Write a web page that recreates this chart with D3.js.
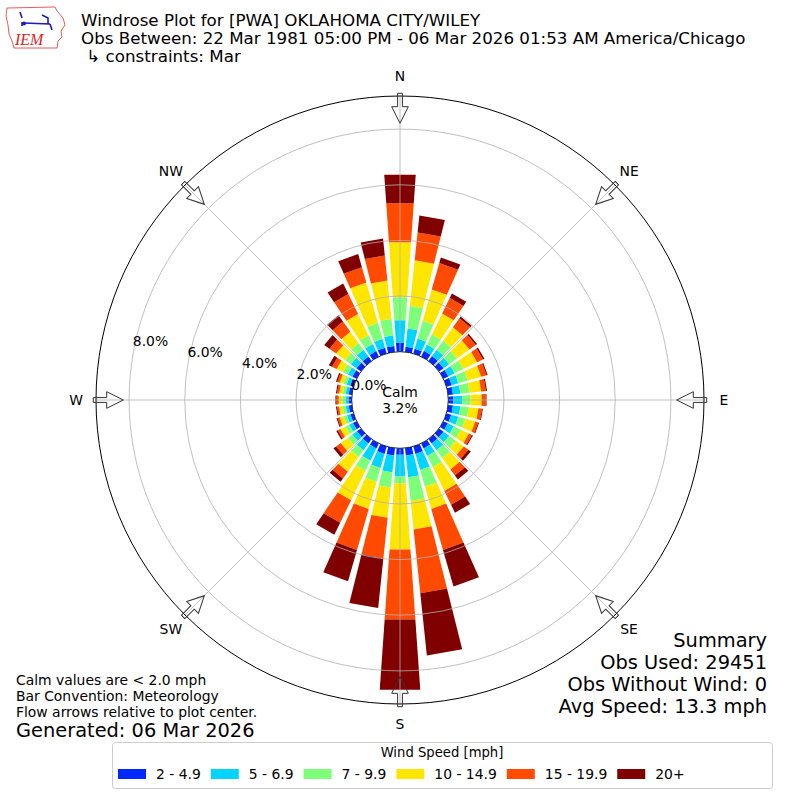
<!DOCTYPE html>
<html>
<head>
<meta charset="utf-8">
<script src="https://cdn.jsdelivr.net/npm/d3@7"></script>
<style>
body { margin: 0; background: #fff; }
svg { font-family: "DejaVu Sans", sans-serif; }
</style>
</head>
<body>
<svg id="chart" width="800" height="800"></svg>
<script>
// wind directions (deg, meteorological, clockwise from north)
var directions = [0,10,20,30,40,50,60,70,80,90,100,110,120,130,140,150,160,170,
	180,190,200,210,220,230,240,250,260,270,280,290,300,310,320,330,340,350];

var speedLabels = ["2 - 4.9","5 - 6.9","7 - 9.9","10 - 14.9","15 - 19.9","20+"];
var speedColors = ["#0028ff","#00d4ff","#7dff7a","#ffe600","#ff4a00","#800000"];

// percent of observations per direction, one array per speed bin
var spd2 = [0.32,0.19,0.18,0.23,0.22,0.20,0.20,0.20,0.18,0.18,0.18,0.18,0.18,0.20,0.20,0.20,0.28,0.27,
	0.24,0.27,0.28,0.20,0.20,0.18,0.15,0.12,0.12,0.12,0.12,0.13,0.17,0.20,0.20,0.22,0.22,0.22];
var spd5 = [0.82,0.66,0.38,0.25,0.28,0.25,0.25,0.25,0.27,0.32,0.27,0.27,0.24,0.25,0.30,0.30,0.60,0.79,
	0.78,0.61,0.53,0.49,0.30,0.20,0.15,0.13,0.11,0.11,0.11,0.13,0.18,0.25,0.30,0.28,0.33,0.38];
var spd7 = [0.83,0.82,0.67,0.41,0.40,0.35,0.35,0.35,0.33,0.30,0.30,0.27,0.28,0.30,0.35,0.45,0.63,0.85,
	0.24,0.55,0.51,0.41,0.30,0.20,0.15,0.12,0.11,0.11,0.10,0.12,0.20,0.25,0.30,0.35,0.60,0.60];
var spd10 = [1.98,1.64,1.17,0.83,0.60,0.55,0.55,0.50,0.42,0.40,0.35,0.36,0.32,0.35,0.50,0.95,0.83,1.03,
	2.39,1.09,1.02,1.17,0.65,0.32,0.20,0.15,0.13,0.13,0.13,0.14,0.25,0.40,0.50,0.85,1.51,1.38];
var spd15 = [1.40,1.01,0.99,0.62,0.40,0.28,0.23,0.20,0.17,0.15,0.13,0.11,0.12,0.20,0.27,0.55,1.53,2.31,
	2.52,1.46,1.53,0.90,0.30,0.20,0.10,0.08,0.07,0.08,0.08,0.09,0.18,0.30,0.45,0.80,0.57,0.91];
var spd20 = [1.03,0.61,0.20,0.18,0.07,0.06,0.06,0.04,0.04,0.03,0.03,0.03,0.04,0.11,0.18,0.32,1.37,2.25,
	2.53,1.80,1.17,0.48,0.15,0.12,0.06,0.04,0.04,0.04,0.04,0.05,0.13,0.23,0.28,0.42,0.49,0.61];

var rTicks = [0,2,4,6,8];
var rMax = 9.19;
var calmPct = "3.2%";
var compass = [["N",0],["NE",45],["E",90],["SE",135],["S",180],["SW",225],["W",270],["NW",315]];

var titleLines = ["Windrose Plot for [PWA] OKLAHOMA CITY/WILEY",
	"Obs Between: 22 Mar 1981 05:00 PM - 06 Mar 2026 01:53 AM America/Chicago",
	" \u21b3 constraints: Mar"];
var noteLines = ["Calm values are < 2.0 mph","Bar Convention: Meteorology","Flow arrows relative to plot center."];
var summaryLines = ["Summary","Obs Used: 29451","Obs Without Wind: 0","Avg Speed: 13.3 mph"];

var svg = d3.select("#chart");
var cx = 400, cy = 400;
var r = d3.scaleLinear().domain([0, rMax]).range([48.3, 304]);
var opening = 8; // bar angular width, deg

function pt(rad, deg) {
	var a = deg * Math.PI / 180;
	return [cx + rad * Math.sin(a), cy - rad * Math.cos(a)];
}

// build table + stack
var series = [spd2, spd5, spd7, spd10, spd15, spd20];
var keys = speedLabels;
var table = directions.map(function(d, i) {
	var row = {dir: d};
	keys.forEach(function(k, j) { row[k] = series[j][i]; });
	return row;
});
var stacked = d3.stack().keys(keys)(table);

var bars = svg.append("g");
stacked.forEach(function(layer, j) {
	bars.selectAll(null)
		.data(layer)
		.enter()
		.append("path")
		.attr("fill", speedColors[j])
		.attr("d", function(d) {
			var a = d.data.dir, r0 = r(d[0]), r1 = r(d[1]);
			var p = [pt(r0, a - opening/2), pt(r1, a - opening/2), pt(r1, a + opening/2), pt(r0, a + opening/2)];
			return "M" + p.join("L") + "Z";
		});
});

// grid on top
var grid = svg.append("g").attr("fill", "none").attr("stroke", "#b0b0b0").attr("stroke-width", 0.8);
grid.selectAll("circle")
	.data(rTicks.slice(1))
	.enter()
	.append("circle")
	.attr("cx", cx).attr("cy", cy)
	.attr("r", function(d) { return r(d); });
grid.selectAll("line")
	.data(compass)
	.enter()
	.append("line")
	.attr("x1", function(d) { return pt(r(0), d[1])[0]; })
	.attr("y1", function(d) { return pt(r(0), d[1])[1]; })
	.attr("x2", function(d) { return pt(r(rMax), d[1])[0]; })
	.attr("y2", function(d) { return pt(r(rMax), d[1])[1]; });

svg.append("circle").attr("cx", cx).attr("cy", cy).attr("r", r(0))
	.attr("fill", "#fff").attr("stroke", "#000").attr("stroke-width", 0.8);
svg.append("circle").attr("cx", cx).attr("cy", cy).attr("r", r(rMax))
	.attr("fill", "none").attr("stroke", "#000").attr("stroke-width", 1);

// radial tick labels
svg.append("g").selectAll("text")
	.data(rTicks)
	.enter()
	.append("text")
	.attr("x", function(d) { return pt(r(d), 281.25)[0] - 1.5; })
	.attr("y", function(d) { return pt(r(d), 281.25)[1] - 1; })
	.attr("font-size", 13.9)
	.text(function(d) { return d.toFixed(1) + "%"; });

// compass labels
svg.append("g").selectAll("text")
	.data(compass)
	.enter()
	.append("text")
	.attr("x", function(d) { return pt(324, d[1])[0]; })
	.attr("y", function(d) { return pt(324, d[1])[1]; })
	.attr("text-anchor", "middle")
	.attr("dominant-baseline", "central")
	.attr("font-size", 13.9)
	.text(function(d) { return d[0]; });

// flow arrows
svg.append("g").selectAll("path")
	.data(compass)
	.enter()
	.append("path")
	.attr("transform", function(d) { return "translate(" + cx + "," + cy + ") rotate(" + d[1] + ")"; })
	.attr("d", "M-2.4,-306.7L2.4,-306.7L2.4,-293.3L8.3,-293.3L0,-276.7L-8.3,-293.3L-2.4,-293.3Z")
	.attr("fill", "none")
	.attr("stroke", "#333")
	.attr("stroke-width", 1);

// calm
svg.append("text").attr("x", cx).attr("y", 397).attr("text-anchor", "middle")
	.attr("font-size", 13.9).text("Calm");
svg.append("text").attr("x", cx).attr("y", 413).attr("text-anchor", "middle")
	.attr("font-size", 13.9).text(calmPct);

// title
svg.append("g").selectAll("text")
	.data(titleLines)
	.enter()
	.append("text")
	.attr("x", 81)
	.attr("y", function(d, i) { return 26 + i * 18; })
	.attr("font-size", 16.7)
	.attr("xml:space", "preserve")
	.text(function(d) { return d; });

// notes lower left
svg.append("g").selectAll("text")
	.data(noteLines)
	.enter()
	.append("text")
	.attr("x", 16)
	.attr("y", function(d, i) { return 685 + i * 16; })
	.attr("font-size", 13.9)
	.text(function(d) { return d; });
svg.append("text").attr("x", 16).attr("y", 737).attr("font-size", 19.4).text("Generated: 06 Mar 2026");

// summary lower right
svg.append("g").selectAll("text")
	.data(summaryLines)
	.enter()
	.append("text")
	.attr("x", 767)
	.attr("y", function(d, i) { return 647 + i * 22; })
	.attr("text-anchor", "end")
	.attr("font-size", 19.4)
	.text(function(d) { return d; });

// legend
var leg = svg.append("g");
leg.append("rect").attr("x", 112.5).attr("y", 742.5).attr("width", 660).attr("height", 46)
	.attr("rx", 3).attr("fill", "#fff").attr("stroke", "#ccc");
leg.append("text").attr("x", 442).attr("y", 757).attr("text-anchor", "middle")
	.attr("font-size", 13.2).text("Wind Speed [mph]");
var lx = 118;
speedLabels.forEach(function(lab, j) {
	leg.append("rect").attr("x", lx).attr("y", 769).attr("width", 28).attr("height", 10)
		.attr("fill", speedColors[j]);
	var t = leg.append("text").attr("x", lx + 38).attr("y", 779).attr("font-size", 13.9).text(lab);
	lx += 38 + t.node().getComputedTextLength() + 10;
});

// IEM logo
var logo = svg.append("g");
logo.append("path")
	.attr("d", "M7,8 L55,7 L57,11 L63,18 L65,25 L61,31 L62,37 L58,41 L57,48 L14,48 L12,41 L9,34 L8,25 L6,16 Z")
	.attr("fill", "none").attr("stroke", "#d33").attr("stroke-width", 0.8);
logo.append("path")
	.attr("d", "M20,12 L22,18 M24,23 L50,24 M42,15 L48,18 L48,24 M50,24 L52,30 M22,22 L22,26")
	.attr("fill", "none").attr("stroke", "#1a1acc").attr("stroke-width", 1.6);
logo.append("circle").attr("cx", 24).attr("cy", 23.5).attr("r", 2).attr("fill", "#1a1acc");
logo.append("text").attr("x", 15).attr("y", 45).attr("fill", "#d22")
	.attr("font-family", "Liberation Serif, serif").attr("font-style", "italic")
	.attr("font-size", 16).text("IEM");
</script>
</body>
</html>
